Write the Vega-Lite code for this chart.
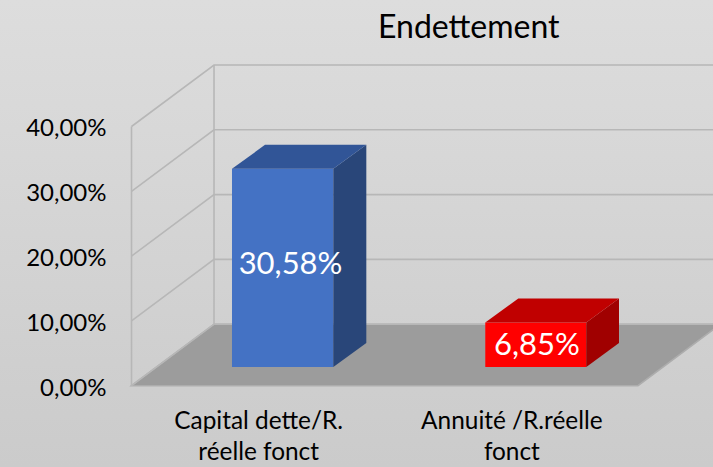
{
"$schema":"https://vega.github.io/schema/vega-lite/v6.json",
"width":713,"height":467,"padding":0,"autosize":"none",
"background":"#d4d4d4",
"view":{"stroke":null,"fill":{"gradient":"linear","x1":0,"y1":0,"x2":0,"y2":1,"stops":[{"offset":0,"color":"#dddddd"},{"offset":1,"color":"#cbcbcb"}]}},
"title":{"text":"Endettement","anchor":"start","frame":"group","dx":378,"offset":-45,"font":"Lato","fontSize":32,"fontWeight":"normal","color":"#000000"},
"datasets":{
"floor":[
{"x":0,"y":0,"y2":0},{"x":0.3258,"y":9.49,"y2":0},{"x":2,"y":9.49,"y2":0},{"x":2.3258,"y":9.49,"y2":9.49}],
"grid":[
{"line":"g0","x":0,"y":0},{"line":"g0","x":0.3258,"y":9.49},{"line":"g0","x":2.3,"y":9.49},
{"line":"g10","x":0,"y":10},{"line":"g10","x":0.3258,"y":19.49},{"line":"g10","x":2.3,"y":19.49},
{"line":"g20","x":0,"y":20},{"line":"g20","x":0.3258,"y":29.49},{"line":"g20","x":2.3,"y":29.49},
{"line":"g30","x":0,"y":30},{"line":"g30","x":0.3258,"y":39.49},{"line":"g30","x":2.3,"y":39.49},
{"line":"g40","x":0,"y":40},{"line":"g40","x":0.3258,"y":49.49},{"line":"g40","x":2.3,"y":49.49},
{"line":"front","x":0,"y":0},{"line":"front","x":0,"y":40},
{"line":"back","x":0.3258,"y":9.49},{"line":"back","x":0.3258,"y":49.49}],
"faces":[
{"face":"blue front","x":0.3968,"y":33.466,"y2":2.886},{"face":"blue front","x":0.7968,"y":33.466,"y2":2.886},
{"face":"blue side","x":0.7968,"y":33.466,"y2":2.886},{"face":"blue side","x":0.9272,"y":37.17,"y2":6.59},
{"face":"blue top","x":0.3968,"y":33.466,"y2":33.466},{"face":"blue top","x":0.5272,"y":37.17,"y2":33.466},{"face":"blue top","x":0.7968,"y":37.17,"y2":33.466},{"face":"blue top","x":0.9272,"y":37.17,"y2":37.17},
{"face":"red front","x":1.397,"y":9.736,"y2":2.886},{"face":"red front","x":1.7958,"y":9.736,"y2":2.886},
{"face":"red side","x":1.7958,"y":9.736,"y2":2.886},{"face":"red side","x":1.925,"y":13.44,"y2":6.59},
{"face":"red top","x":1.397,"y":9.736,"y2":9.736},{"face":"red top","x":1.5273,"y":13.44,"y2":9.736},{"face":"red top","x":1.7958,"y":13.44,"y2":9.736},{"face":"red top","x":1.925,"y":13.44,"y2":13.44}],
"labels":[
{"label":"30,58%","x":0.628,"y":18.64},
{"label":"6,85%","x":1.601,"y":6.14}]
},
"layer":[
{"data":{"name":"floor"},
 "mark":{"type":"area","fill":"#9c9c9c","stroke":"#adadad","strokeWidth":1.5,"clip":true},
 "encoding":{
  "x":{"field":"x","type":"quantitative","sort":null,"scale":{"domain":[-0.5193,2.2962],"nice":false,"zero":false},
   "axis":{"orient":"bottom","offset":-58,"values":[0.5,1.5],"title":null,"grid":false,"domain":false,"ticks":false,"labelPadding":0,"labelBound":false,"labelFlush":false,"labelOverlap":false,"labelLimit":400,"labelFont":"Lato","labelFontSize":24.4,"labelColor":"#000000","labelLineHeight":31,"labelBaseline":"top","labelAlign":"center",
    "labelExpr":"datum.value<1?['Capital dette/R.','réelle fonct']:['Annuité /R.réelle','fonct']"}},
  "y":{"field":"y","type":"quantitative","stack":null,"scale":{"domain":[-12.55,59.52],"nice":false,"zero":false},
   "axis":{"orient":"left","offset":-106,"values":[0,10,20,30,40],"title":null,"grid":false,"domain":false,"ticks":false,"labelPadding":0,"labelOffset":2.5,"labelBound":false,"labelFlush":false,"labelOverlap":false,"labelFont":"Lato","labelFontSize":24,"labelColor":"#000000","labelAlign":"right",
    "labelExpr":"replace(format(datum.value,'.2f'),'.',',')+'%'"}},
  "y2":{"field":"y2"}}},
{"data":{"name":"grid"},
 "mark":{"type":"line","stroke":"#b7b7b7","strokeWidth":1.6,"clip":true},
 "encoding":{"x":{"field":"x","type":"quantitative","sort":null},"y":{"field":"y","type":"quantitative"},"detail":{"field":"line"}}},
{"data":{"name":"faces"},
 "mark":{"type":"area"},
 "encoding":{"x":{"field":"x","type":"quantitative","sort":null},"y":{"field":"y","type":"quantitative","stack":null},"y2":{"field":"y2"},
  "color":{"field":"face","type":"nominal","legend":null,"scale":{"domain":["blue front","blue side","blue top","red front","red side","red top"],"range":["#4472c4","#294679","#315597","#ff0000","#a00000","#c00000"]}}}},
{"data":{"name":"labels"},
 "mark":{"type":"text","font":"Lato","fontSize":31,"color":"#ffffff","baseline":"middle","align":"center"},
 "encoding":{"x":{"field":"x","type":"quantitative"},"y":{"field":"y","type":"quantitative"},"text":{"field":"label"}}}
]
}
